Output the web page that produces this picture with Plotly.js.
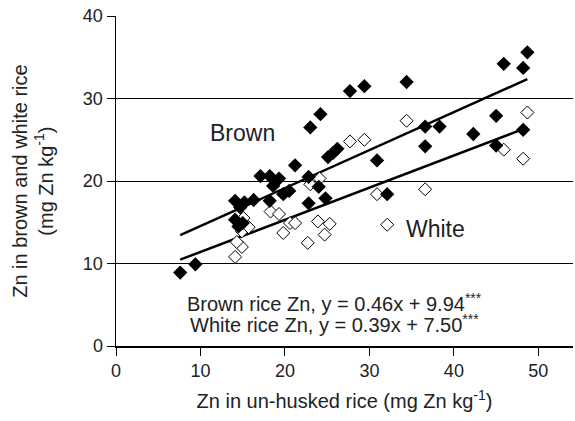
<!DOCTYPE html>
<html>
<head>
<meta charset="utf-8">
<script src="https://cdn.plot.ly/plotly-3.0.1.min.js"></script>
<style>html,body{margin:0;padding:0;background:#fff;}#chart{width:575px;height:421px;}</style>
</head>
<body>
<div id="chart"></div>
<script>
// Brown rice Zn vs un-husked rice Zn
var brownX = [7.6, 9.4, 14.1, 15.2, 16.3, 14.7, 14.1, 15.0, 14.5, 17.1, 18.2, 19.3, 18.6, 18.2, 19.8, 20.5, 21.2, 22.8, 24.0, 22.8, 24.8, 23.0, 24.2, 25.1, 25.7, 26.2, 27.7, 29.4, 30.9, 32.1, 34.4, 36.6, 38.3, 36.6, 42.3, 45.0, 45.0, 45.9, 48.2, 48.7, 48.2];
var brownY = [8.9, 9.9, 17.6, 17.4, 17.7, 16.8, 15.3, 14.9, 14.5, 20.6, 20.6, 20.3, 19.4, 17.6, 18.4, 18.8, 21.9, 20.5, 19.3, 17.3, 17.9, 26.5, 28.1, 22.9, 23.4, 23.9, 30.9, 31.5, 22.5, 18.4, 32.0, 26.6, 26.6, 24.2, 25.7, 27.9, 24.3, 34.2, 33.7, 35.6, 26.2];
// White rice Zn vs un-husked rice Zn
var whiteX = [14.1, 14.9, 14.3, 14.9, 15.7, 15.1, 18.3, 19.3, 19.8, 20.6, 21.2, 22.7, 23.9, 25.3, 24.7, 23.0, 24.1, 27.7, 29.4, 30.9, 32.1, 34.4, 36.6, 45.9, 48.2, 48.7];
var whiteY = [10.8, 12.0, 12.6, 13.9, 14.4, 15.5, 16.3, 16.0, 13.7, 14.9, 14.9, 12.5, 15.1, 14.8, 13.5, 19.6, 20.3, 24.8, 25.0, 18.4, 14.7, 27.3, 19.0, 23.8, 22.7, 28.3];
// Regression coefficients
var brownSlope = 0.46, brownIntercept = 9.94;
var whiteSlope = 0.39, whiteIntercept = 7.50;
var lineX = [7.6, 48.7];
var xTicks = [0, 10, 20, 30, 40, 50];
var yTicks = [0, 10, 20, 30, 40];

var brownLineY = lineX.map(function(x){ return brownSlope * x + brownIntercept; });
var whiteLineY = lineX.map(function(x){ return whiteSlope * x + whiteIntercept; });

var font = 'Liberation Sans, Arial, sans-serif';
var data = [
  {x: lineX, y: brownLineY, mode: 'lines', line: {color: '#000', width: 2.5}, hoverinfo: 'skip'},
  {x: lineX, y: whiteLineY, mode: 'lines', line: {color: '#000', width: 2.5}, hoverinfo: 'skip'},
  {x: whiteX, y: whiteY, mode: 'markers', marker: {symbol: 'diamond', size: 10, color: '#fff', line: {color: '#000', width: 1}}},
  {x: brownX, y: brownY, mode: 'markers', marker: {symbol: 'diamond', size: 11, color: '#000', line: {color: '#000', width: 0}}}
];
var layout = {
  width: 575, height: 421,
  margin: {l: 116, r: 2, t: 16, b: 75},
  showlegend: false,
  paper_bgcolor: '#fff', plot_bgcolor: '#fff',
  font: {family: font, color: '#222', size: 18},
  xaxis: {
    range: [0, 54.1], tickvals: xTicks, ticks: 'outside', ticklen: 8, tickcolor: '#000',
    showline: true, linecolor: '#000', linewidth: 1.5, showgrid: false, zeroline: false,
    tickfont: {size: 18}, fixedrange: true,
    title: {text: 'Zn in un-husked rice (mg Zn kg<sup>-1</sup>)', font: {size: 20}, standoff: 14}
  },
  yaxis: {
    range: [0, 40], tickvals: yTicks, ticks: 'outside', ticklen: 8, tickcolor: '#000',
    showline: true, linecolor: '#000', linewidth: 1.5, showgrid: true, gridcolor: '#000', gridwidth: 1,
    zeroline: false, tickfont: {size: 18}, fixedrange: true
  },
  annotations: [
    {xref: 'paper', yref: 'paper', x: -0.182, y: 0.5, xanchor: 'center', yanchor: 'middle', textangle: -90, showarrow: false,
     text: 'Zn in brown and white rice<br>(mg Zn kg<sup>-1</sup>)', font: {size: 20}, align: 'center'},
    {xref: 'x', yref: 'y', x: 15, y: 25.8, xanchor: 'center', showarrow: false, text: 'Brown', font: {size: 23}},
    {xref: 'x', yref: 'y', x: 37.8, y: 14.2, xanchor: 'center', showarrow: false, text: 'White', font: {size: 23}},
    {xref: 'x', yref: 'y', x: 25.9, y: 5.3, xanchor: 'center', showarrow: false, text: 'Brown rice Zn, y = 0.46x + 9.94<sup>***</sup>', font: {size: 20}},
    {xref: 'x', yref: 'y', x: 25.9, y: 2.7, xanchor: 'center', showarrow: false, text: 'White rice Zn, y = 0.39x + 7.50<sup>***</sup>', font: {size: 20}}
  ]
};
Plotly.newPlot('chart', data, layout, {displayModeBar: false, staticPlot: true});
</script>
</body>
</html>
